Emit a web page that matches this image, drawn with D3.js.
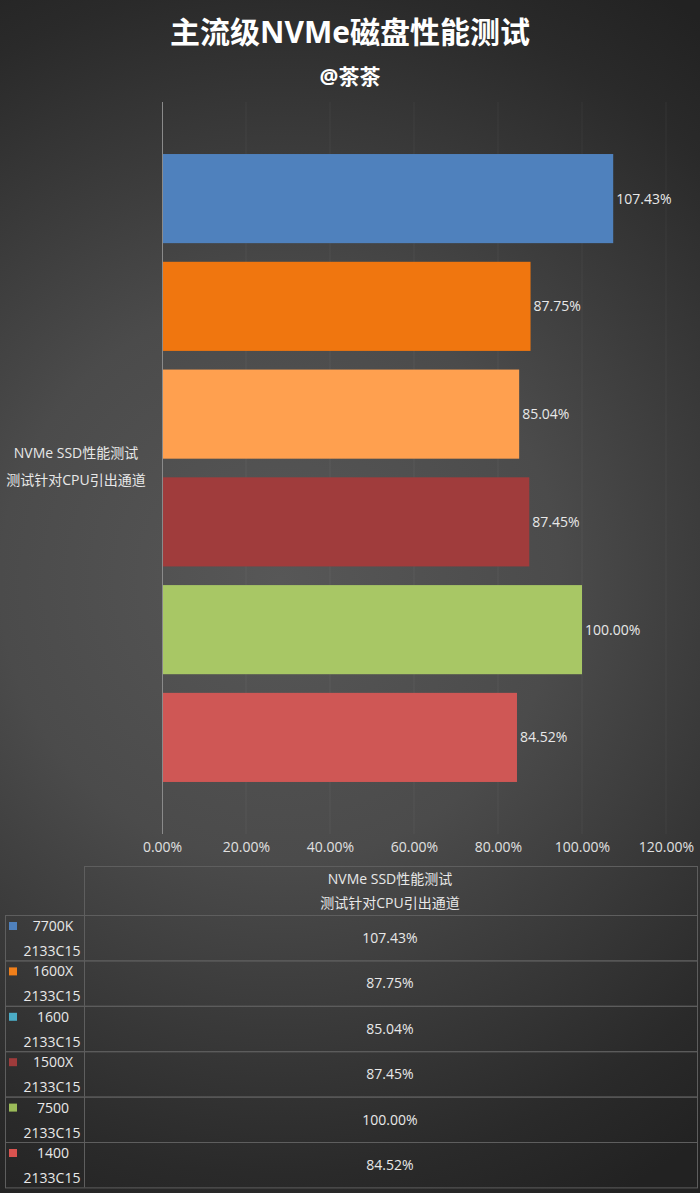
<!DOCTYPE html>
<html><head><meta charset="utf-8">
<script src="https://cdn.jsdelivr.net/npm/d3@7"></script>
<style>
html,body{margin:0;padding:0;background:#333;}
svg{display:block;}
text{font-family:"Open Sans","Noto Sans CJK SC",sans-serif;}
</style></head>
<body>
<script>
const title = "主流级NVMe磁盘性能测试";
const subtitle = "@茶茶";
const categoryLines = ["NVMe SSD性能测试", "测试针对CPU引出通道"];
const seriesNames = ["7700K", "1600X", "1600", "1500X", "7500", "1400"];
const seriesSub = ["2133C15", "2133C15", "2133C15", "2133C15", "2133C15", "2133C15"];
const values = [107.43, 87.75, 85.04, 87.45, 100.00, 84.52];
const barColors = ["#4f81bd", "#f0760f", "#ffa04f", "#a03c3c", "#a8c765", "#cf5755"];
const legendColors = ["#4f81bd", "#f07f1a", "#4bacc6", "#9e3b3b", "#9bbb59", "#d9534f"];
const ticks = [0, 20, 40, 60, 80, 100, 120];

const W = 700, H = 1193;
const FF = '"Open Sans","Noto Sans CJK SC",sans-serif';
const svg = d3.select("body").append("svg").attr("width", W).attr("height", H);

const defs = svg.append("defs");
const rg = defs.append("radialGradient").attr("id", "bg")
  .attr("gradientUnits", "userSpaceOnUse")
  .attr("cx", 280).attr("cy", 580).attr("r", 700);
rg.append("stop").attr("offset", "0").attr("stop-color", "#575757");
rg.append("stop").attr("offset", "0.4").attr("stop-color", "#4b4b4b");
rg.append("stop").attr("offset", "0.85").attr("stop-color", "#2a2a2a");
rg.append("stop").attr("offset", "1").attr("stop-color", "#222222");
svg.append("rect").attr("width", W).attr("height", H).attr("fill", "url(#bg)");

// Titles
svg.append("text").attr("x", 350).attr("y", 43).attr("text-anchor", "middle")
  .attr("font-size", 30).attr("font-weight", "bold").attr("fill", "#ffffff").text(title);
svg.append("text").attr("x", 350).attr("y", 84).attr("text-anchor", "middle")
  .attr("font-size", 21).attr("font-weight", "bold").attr("fill", "#ffffff").text(subtitle);

// Scales
const x = d3.scaleLinear().domain([0, 120]).range([162, 666]);
const y = d3.scaleBand().domain(seriesNames).range([144.7, 791.3]).paddingInner(0.173).paddingOuter(0.0865);
const plotTop = 102, plotBottom = 834;

// gridlines
svg.append("g").selectAll("line").data(ticks.slice(1)).join("line")
  .attr("x1", d => x(d)).attr("x2", d => x(d))
  .attr("y1", plotTop).attr("y2", plotBottom)
  .attr("stroke", "#ffffff").attr("stroke-opacity", 0.05).attr("stroke-width", 1);

// bars
svg.append("g").selectAll("rect").data(values).join("rect")
  .attr("x", x(0)).attr("y", (d, i) => y(seriesNames[i]))
  .attr("width", d => x(d) - x(0)).attr("height", y.bandwidth())
  .attr("fill", (d, i) => barColors[i]);

// value labels
svg.append("g").selectAll("text").data(values).join("text")
  .attr("x", d => x(d) + 3).attr("y", (d, i) => y(seriesNames[i]) + y.bandwidth() / 2 + 5)
  .attr("font-size", 14).attr("fill", "#e8e8e8").text(d => d.toFixed(2) + "%");

// vertical axis line
svg.append("line").attr("x1", x(0) + 0.5).attr("x2", x(0) + 0.5).attr("y1", plotTop).attr("y2", plotBottom)
  .attr("stroke", "#8a8a8a").attr("stroke-width", 1);

// x axis tick labels via d3 axis
const xAxis = d3.axisBottom(x).tickValues(ticks).tickSize(0).tickPadding(0)
  .tickFormat(d => d.toFixed(2) + "%");
const gx = svg.append("g").attr("transform", `translate(0,${842})`).call(xAxis);
gx.select(".domain").remove();
gx.selectAll("text").attr("font-size", 14).attr("fill", "#e0e0e0").attr("font-family", FF);

// category label
svg.append("g").selectAll("text").data(categoryLines).join("text")
  .attr("x", 76).attr("y", (d, i) => 458 + i * 27).attr("text-anchor", "middle")
  .attr("font-size", 14).attr("fill", "#e8e8e8").text(d => d);

// Data table
const tblLeft = 5, colDiv = 84, tblRight = 697, hdrTop = 866, rowTop = 915, rowH = 45.4;
const tg = svg.append("g");
const lc = "#5e5e5e";
tg.append("rect").attr("x", colDiv + 0.5).attr("y", hdrTop + 0.5).attr("width", tblRight - colDiv).attr("height", rowTop - hdrTop)
  .attr("fill", "none").attr("stroke", lc);
tg.selectAll("text.h").data(categoryLines).join("text").attr("class", "h")
  .attr("x", 390).attr("y", (d, i) => 884 + i * 24).attr("text-anchor", "middle")
  .attr("font-size", 14).attr("fill", "#e8e8e8").text(d => d);

const rows = tg.selectAll("g.row").data(seriesNames).join("g").attr("class", "row")
  .attr("transform", (d, i) => `translate(0,${rowTop + i * rowH})`);
rows.append("rect").attr("x", tblLeft + 0.5).attr("y", 0.5).attr("width", tblRight - tblLeft).attr("height", rowH)
  .attr("fill", "none").attr("stroke", lc);
rows.append("line").attr("x1", colDiv + 0.5).attr("x2", colDiv + 0.5).attr("y1", 0).attr("y2", rowH).attr("stroke", lc);
rows.append("rect").attr("x", 9).attr("y", 7).attr("width", 8).attr("height", 8)
  .attr("fill", (d, i) => legendColors[i]);
rows.append("text").attr("x", 53).attr("y", 16).attr("text-anchor", "middle")
  .attr("font-size", 14).attr("fill", "#e8e8e8").text(d => d);
rows.append("text").attr("x", 52).attr("y", 41).attr("text-anchor", "middle")
  .attr("font-size", 14).attr("fill", "#e8e8e8").text((d, i) => seriesSub[i]);
rows.append("text").attr("x", 390).attr("y", 28).attr("text-anchor", "middle")
  .attr("font-size", 14).attr("fill", "#e8e8e8").text((d, i) => values[i].toFixed(2) + "%");
</script>
</body></html>
